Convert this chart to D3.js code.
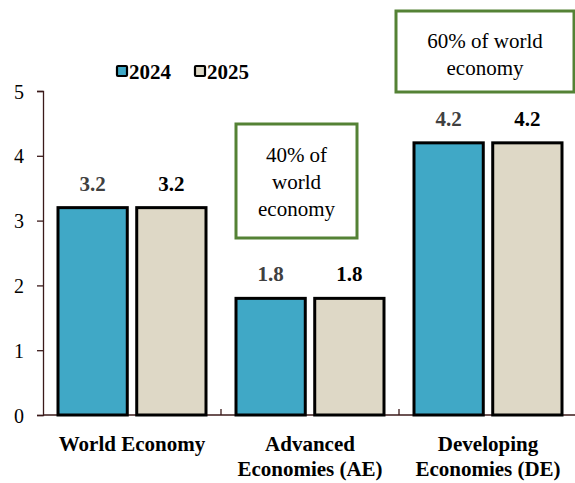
<!DOCTYPE html>
<html>
<head>
<meta charset="utf-8">
<script src="https://cdn.jsdelivr.net/npm/d3@7"></script>
<style>
body { margin: 0; background: #fff; }
</style>
</head>
<body>
<svg id="chart" width="575" height="483"></svg>
<script>
var categories = [["World Economy"], ["Advanced", "Economies (AE)"], ["Developing", "Economies (DE)"]];
var years = ["2024", "2025"];
var values2024 = [3.2, 1.8, 4.2];
var values2025 = [3.2, 1.8, 4.2];
var yTicks = [0, 1, 2, 3, 4, 5];
var notes = [
  { cat: 1, lines: ["40% of", "world", "economy"] },
  { cat: 2, lines: ["60% of world", "economy"] }
];

var colors = { "2024": "#40a8c6", "2025": "#ded8c6" };
var labelColors = { "2024": "#404040", "2025": "#000" };
var fontName = "'Liberation Serif'";

function draw() {
  var svg = d3.select("#chart");
  var plotLeft = 43, plotBottom = 415, plotTop = 91;

  var x0 = d3.scaleBand().domain(d3.range(categories.length)).range([plotLeft, plotLeft + 178 * 3]);
  var x1 = d3.scaleBand().domain(years).range([15, 163]).paddingInner(0.12);
  var y = d3.scaleLinear().domain([0, 5]).range([plotBottom, plotTop]);

  var rows = categories.map(function(c, i) {
    return { i: i, vals: [{ year: "2024", v: values2024[i] }, { year: "2025", v: values2025[i] }] };
  });

  // y axis
  var yAxis = svg.append("g").attr("transform", "translate(" + plotLeft + ",0)")
    .call(d3.axisLeft(y).tickValues(yTicks).tickSize(6).tickFormat(d3.format("d")));
  yAxis.attr("font-family", null).attr("font-size", null);
  yAxis.select(".domain").attr("stroke", "#3b1a1a").attr("stroke-width", 1.3);
  yAxis.selectAll(".tick line").attr("stroke", "#3b1a1a").attr("stroke-width", 1.3);
  yAxis.selectAll(".tick text").style("font-family", fontName).style("font-size", "20px")
    .attr("fill", "#000").attr("x", -19).attr("dy", "0.35em");

  // x axis line with ticks between categories
  var xg = svg.append("g");
  xg.append("line").attr("x1", plotLeft).attr("x2", 575).attr("y1", plotBottom).attr("y2", plotBottom)
    .attr("stroke", "#3b1a1a").attr("stroke-width", 1.3);
  xg.selectAll(".sep").data([1, 2]).enter().append("line")
    .attr("x1", function(d) { return x0(d); }).attr("x2", function(d) { return x0(d); })
    .attr("y1", plotBottom).attr("y2", plotBottom - 6)
    .attr("stroke", "#3b1a1a").attr("stroke-width", 1.3);

  // bars
  var groups = svg.selectAll(".grp").data(rows).enter().append("g")
    .attr("transform", function(d) { return "translate(" + x0(d.i) + ",0)"; });

  groups.selectAll("rect").data(function(d) { return d.vals; }).enter().append("rect")
    .attr("x", function(d) { return x1(d.year); })
    .attr("width", x1.bandwidth())
    .attr("y", function(d) { return y(d.v); })
    .attr("height", function(d) { return plotBottom - y(d.v); })
    .attr("fill", function(d) { return colors[d.year]; })
    .attr("stroke", "#000").attr("stroke-width", 3);

  groups.selectAll(".val").data(function(d) { return d.vals; }).enter().append("text")
    .attr("x", function(d) { return x1(d.year) + x1.bandwidth() / 2; })
    .attr("y", function(d) { return y(d.v) - 17; })
    .attr("text-anchor", "middle")
    .style("font-family", fontName).style("font-size", "21px").style("font-weight", "bold")
    .attr("fill", function(d) { return labelColors[d.year]; })
    .text(function(d) { return d.v.toFixed(1); });

  // category labels
  svg.selectAll(".cat").data(categories).enter().append("text")
    .attr("text-anchor", "middle")
    .style("font-family", fontName).style("font-size", "21px").style("font-weight", "bold")
    .attr("x", function(d, i) { return x0(i) + x0.bandwidth() / 2; })
    .attr("y", 451)
    .selectAll("tspan").data(function(d) { return d; }).enter().append("tspan")
    .attr("x", function() { return d3.select(this.parentNode).attr("x"); })
    .attr("dy", function(d, j) { return j === 0 ? 0 : 25; })
    .text(function(d) { return d; });

  // legend
  var legend = svg.append("g");
  var lx = [117, 195];
  years.forEach(function(yr, i) {
    legend.append("rect").attr("x", lx[i]).attr("y", 66).attr("width", 10).attr("height", 10)
      .attr("fill", colors[yr]).attr("stroke", "#000").attr("stroke-width", 2.2).attr("rx", 1);
    legend.append("text").attr("x", lx[i] + 12).attr("y", 79)
      .style("font-family", fontName).style("font-size", "21px").style("font-weight", "bold")
      .text(yr);
  });

  // note boxes
  var boxes = [
    { x: 236, y: 124, w: 121, h: 114, ty: 162, lh: 27 },
    { x: 396, y: 11, w: 178, h: 81, ty: 48, lh: 27 }
  ];
  notes.forEach(function(n, k) {
    var b = boxes[k];
    svg.append("rect").attr("x", b.x).attr("y", b.y).attr("width", b.w).attr("height", b.h)
      .attr("fill", "#fff").attr("stroke", "#548235").attr("stroke-width", 3);
    svg.append("text").attr("text-anchor", "middle")
      .style("font-family", fontName).style("font-size", "21px")
      .selectAll("tspan").data(n.lines).enter().append("tspan")
      .attr("x", b.x + b.w / 2)
      .attr("y", function(d, j) { return b.ty + j * b.lh; })
      .text(function(d) { return d; });
  });
}

draw();
</script>
</body>
</html>
